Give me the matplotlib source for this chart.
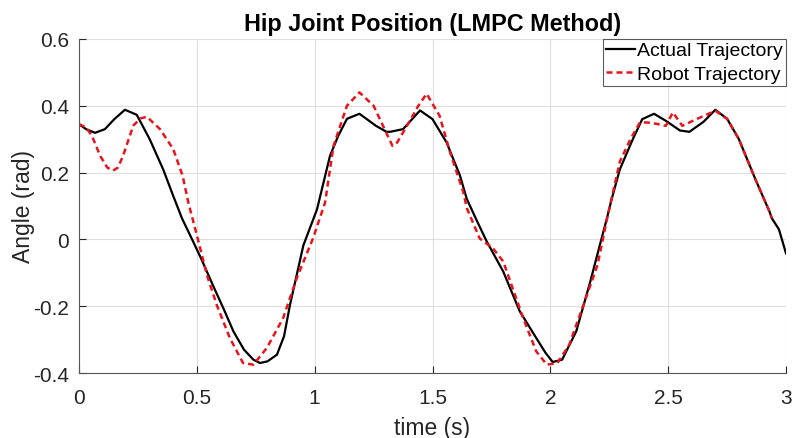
import numpy as np
import matplotlib.pyplot as plt

# valeurs
t_actual = [0.0, 0.03, 0.068, 0.11, 0.15, 0.195, 0.245, 0.30, 0.357, 0.40, 0.437, 0.48, 0.52,
            0.57, 0.615, 0.655, 0.70, 0.74, 0.768, 0.80, 0.84, 0.87, 0.895, 0.952, 1.01,
            1.065, 1.10, 1.137, 1.19, 1.26, 1.305, 1.32, 1.375, 1.447, 1.50, 1.56, 1.617,
            1.645, 1.69, 1.73, 1.80, 1.87, 1.94, 1.98, 2.01, 2.05, 2.11, 2.17, 2.21, 2.24,
            2.26, 2.295, 2.35, 2.39, 2.44, 2.49, 2.55, 2.59, 2.65, 2.70, 2.75, 2.80, 2.87,
            2.93, 2.94, 2.97, 3.0]
y_actual = [0.345, 0.33, 0.319, 0.33, 0.36, 0.388, 0.373, 0.30, 0.21, 0.13, 0.063, 0.0, -0.06,
            -0.14, -0.21, -0.275, -0.33, -0.36, -0.37, -0.365, -0.345, -0.29, -0.197, -0.018, 0.09,
            0.25, 0.31, 0.361, 0.376, 0.34, 0.322, 0.322, 0.33, 0.386, 0.36, 0.29, 0.19,
            0.122, 0.053, -0.006, -0.096, -0.215, -0.295, -0.34, -0.367, -0.36, -0.275, -0.125, -0.017, 0.063,
            0.12, 0.21, 0.30, 0.36, 0.376, 0.355, 0.326, 0.322, 0.352, 0.388, 0.361, 0.30, 0.18,
            0.083, 0.063, 0.03, -0.042]

t_robot = [0.0, 0.03, 0.055, 0.09, 0.12, 0.145, 0.165, 0.187, 0.23, 0.26, 0.288, 0.344, 0.40,
           0.44, 0.464, 0.50, 0.543, 0.585, 0.64, 0.696, 0.74, 0.797, 0.866, 0.924, 0.993,
           1.044, 1.08, 1.137, 1.19, 1.25, 1.29, 1.33, 1.35, 1.40, 1.44, 1.475, 1.53, 1.574,
           1.63, 1.646, 1.70, 1.757, 1.80, 1.84, 1.885, 1.94, 1.985, 2.03, 2.08, 2.14, 2.20,
           2.24, 2.295, 2.34, 2.38, 2.41, 2.45, 2.49, 2.52, 2.56, 2.62, 2.70, 2.75, 2.80,
           2.87, 2.93, 2.94]
y_robot = [0.345, 0.335, 0.31, 0.25, 0.215, 0.206, 0.215, 0.25, 0.34, 0.362, 0.367, 0.33, 0.27,
           0.19, 0.11, 0.013, -0.107, -0.197, -0.295, -0.37, -0.375, -0.325, -0.236, -0.116, 0.003,
           0.11, 0.28, 0.40, 0.44, 0.40, 0.34, 0.28, 0.29, 0.35, 0.40, 0.436, 0.37, 0.262,
           0.143, 0.093, 0.003, -0.027, -0.066, -0.146, -0.236, -0.335, -0.375, -0.37, -0.316, -0.197, -0.077,
           0.06, 0.233, 0.30, 0.35, 0.35, 0.346, 0.34, 0.38, 0.34, 0.36, 0.385, 0.361, 0.30,
           0.18, 0.083, 0.063]

plt.rcParams['font.family'] = ['Liberation Sans', 'DejaVu Sans']
txt = '#262626'

fig = plt.figure(figsize=(7.93, 4.39), dpi=100)
ax = fig.add_axes([0.0996, 0.148, 0.8916, 0.761])

ax.plot(t_actual, y_actual, color='black', lw=1.6, label='Actual Trajectory')
ax.plot(t_robot, y_robot, color='#e8141c', lw=1.8, ls=(0, (2.4, 1.6)), label='Robot Trajectory')

ax.set_xlim(0, 3)
ax.set_ylim(-0.4, 0.6)
ax.set_xticks([0, 0.5, 1, 1.5, 2, 2.5, 3])
ax.set_xticklabels(['0', '0.5', '1', '1.5', '2', '2.5', '3'])
ax.set_yticks([-0.4, -0.2, 0, 0.2, 0.4, 0.6])
ax.set_yticklabels(['-0.4', '-0.2', '0', '0.2', '0.4', '0.6'])
ax.grid(True, color='#dedede', lw=0.8)
ax.set_axisbelow(True)
ax.tick_params(direction='in', length=5, labelsize=15, colors=txt)
ax.tick_params(axis='x', pad=11)
ax.tick_params(axis='y', pad=7)
for s in ['top', 'right']:
    ax.spines[s].set_visible(False)
for s in ['left', 'bottom']:
    ax.spines[s].set_color('#555555')

ax.set_xlabel('time (s)', fontsize=16.5, color=txt, labelpad=6.5)
ax.set_ylabel('Angle (rad)', fontsize=16.5, color=txt, labelpad=-1.5)
ax.set_title('Hip Joint Position (LMPC Method)', fontsize=16.8, fontweight='bold', color='black', pad=6.5)

leg = ax.legend(loc='upper right', fontsize=14, frameon=True, fancybox=False, borderpad=0.15,
                handlelength=1.5, handletextpad=0.1, labelspacing=0.3, borderaxespad=0.0)
leg.get_frame().set_edgecolor('#333333')
leg.get_frame().set_linewidth(0.8)

fig.savefig('out.png', dpi=100)
